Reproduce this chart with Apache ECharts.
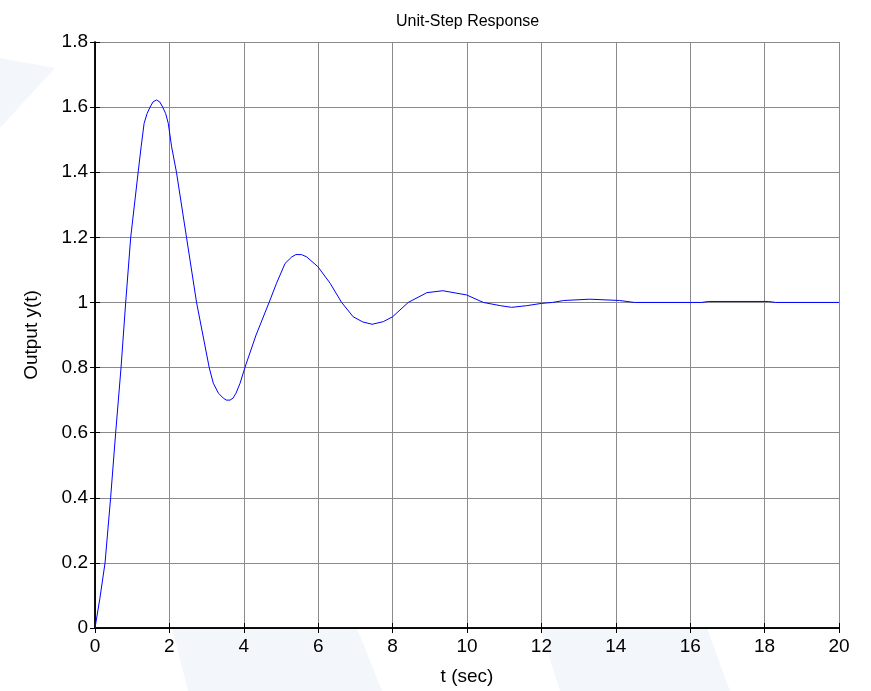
<!DOCTYPE html>
<html lang="en">
<head>
    <meta charset="UTF-8">
    <title>Unit-Step Response</title>
    <script src="https://cdn.jsdelivr.net/npm/echarts@6/dist/echarts.min.js"></script>
    <style>
        html, body { margin: 0; padding: 0; background: #fff; }
        #main { width: 871px; height: 691px; }
    </style>
</head>
<body>
<div id="main"></div>
<script>
    // time (sec) and output
    var tData = [0, 0.13, 0.27, 0.42, 0.556, 0.70, 0.825, 0.96, 1.16, 1.24, 1.32, 1.40, 1.48, 1.56, 1.65,
        1.74, 1.82, 1.90, 1.97, 2.06, 2.19, 2.46, 2.73, 3.07, 3.18, 3.32, 3.45, 3.53, 3.63, 3.71, 3.79,
        3.90, 4.03, 4.33, 4.68, 4.88, 5.11, 5.29, 5.4, 5.55, 5.69, 5.99,
        6.32, 6.63, 6.94, 7.2, 7.45, 7.75, 8.0, 8.42, 8.92, 9.35, 9.99, 10.44, 10.9, 11.2,
        11.6, 12.0, 12.3, 12.6, 13.3, 14.1, 14.5, 16.3, 16.5, 18.1, 18.3, 20];
    var yData = [0, 0.09, 0.2, 0.4, 0.6, 0.8, 1.0, 1.2, 1.4, 1.478, 1.55, 1.58, 1.6, 1.616, 1.622,
        1.616, 1.6, 1.58, 1.55, 1.478, 1.4, 1.2, 1.0, 0.8, 0.752, 0.721, 0.706, 0.700, 0.700, 0.706, 0.721,
        0.752, 0.8, 0.9, 1.0, 1.059, 1.12, 1.14, 1.147, 1.147, 1.14, 1.110,
        1.059, 1.0, 0.956, 0.94, 0.933, 0.941, 0.956, 1.0, 1.030, 1.036, 1.023, 1.0, 0.99, 0.985,
        0.99, 0.997, 1.0, 1.006, 1.010, 1.006, 1.0, 1.0, 1.003, 1.003, 1.0, 1.0];
    var xTicks = [0, 20, 2];
    var yTicks = [0, 1.8, 0.2];

    var points = [];
    for (var i = 0; i < tData.length; i++) {
        points.push([tData[i], yData[i]]);
    }

    var labelFont = {fontFamily: 'Liberation Sans, Arial, sans-serif', fontSize: 19, color: '#000'};

    var myChart = echarts.init(document.getElementById('main'));
    var option = {
        backgroundColor: '#fff',
        animation: false,
        graphic: [
            // faint watermark shapes behind the axes
            {type: 'polygon', z: -10, shape: {points: [[0, 58], [55, 68], [0, 128]]}, style: {fill: '#f3f7fb'}},
            {type: 'polygon', z: -10, shape: {points: [[172, 628], [357, 628], [382, 691], [188, 691]]}, style: {fill: '#f3f7fb'}},
            {type: 'polygon', z: -10, shape: {points: [[540, 628], [707, 628], [730, 691], [560, 691]]}, style: {fill: '#f3f7fb'}}
        ],
        title: {
            text: 'Unit-Step Response',
            left: 391,
            top: 9,
            textStyle: {fontFamily: 'Liberation Sans, Arial, sans-serif', fontSize: 16, fontWeight: 'normal', color: '#000'}
        },
        grid: {
            left: 95, right: 32, top: 42, bottom: 63,
            show: true, backgroundColor: '#fff', borderWidth: 0
        },
        xAxis: [{
            type: 'value',
            min: xTicks[0], max: xTicks[1], interval: xTicks[2],
            name: 't (sec)',
            nameLocation: 'middle',
            nameGap: 39,
            nameTextStyle: labelFont,
            axisLine: {show: true, onZero: false, lineStyle: {color: '#000', width: 1.5}},
            axisTick: {show: true, inside: true, length: 5, lineStyle: {color: '#000'}},
            axisLabel: Object.assign({margin: 9}, labelFont),
            splitLine: {show: true, lineStyle: {color: '#8a8a8a', width: 1}}
        }, {
            type: 'value',
            position: 'top',
            min: xTicks[0], max: xTicks[1], interval: xTicks[2],
            axisLine: {show: true, lineStyle: {color: '#000', width: 1.5}},
            axisTick: {show: true, inside: true, length: 5, lineStyle: {color: '#000'}},
            axisLabel: {show: false},
            splitLine: {show: false}
        }],
        yAxis: [{
            type: 'value',
            min: yTicks[0], max: yTicks[1], interval: yTicks[2],
            name: 'Output y(t)',
            nameLocation: 'middle',
            nameRotate: 90,
            nameGap: 54,
            nameTextStyle: labelFont,
            axisLine: {show: true, onZero: false, lineStyle: {color: '#000', width: 1.5}},
            axisTick: {show: true, inside: true, length: 5, lineStyle: {color: '#000'}},
            axisLabel: Object.assign({
                margin: 7,
                formatter: function (v) { return String(parseFloat(v.toFixed(1))); }
            }, labelFont),
            splitLine: {show: true, lineStyle: {color: '#8a8a8a', width: 1}}
        }, {
            type: 'value',
            position: 'right',
            min: yTicks[0], max: yTicks[1], interval: yTicks[2],
            axisLine: {show: true, lineStyle: {color: '#000', width: 1.5}},
            axisTick: {show: true, inside: true, length: 5, lineStyle: {color: '#000'}},
            axisLabel: {show: false},
            splitLine: {show: false}
        }],
        series: [{
            type: 'line',
            xAxisIndex: 0,
            yAxisIndex: 0,
            data: points,
            showSymbol: false,
            symbol: 'none',
            lineStyle: {color: '#0000ff', width: 1},
            z: 5
        }]
    };
    myChart.setOption(option);
</script>
</body>
</html>
